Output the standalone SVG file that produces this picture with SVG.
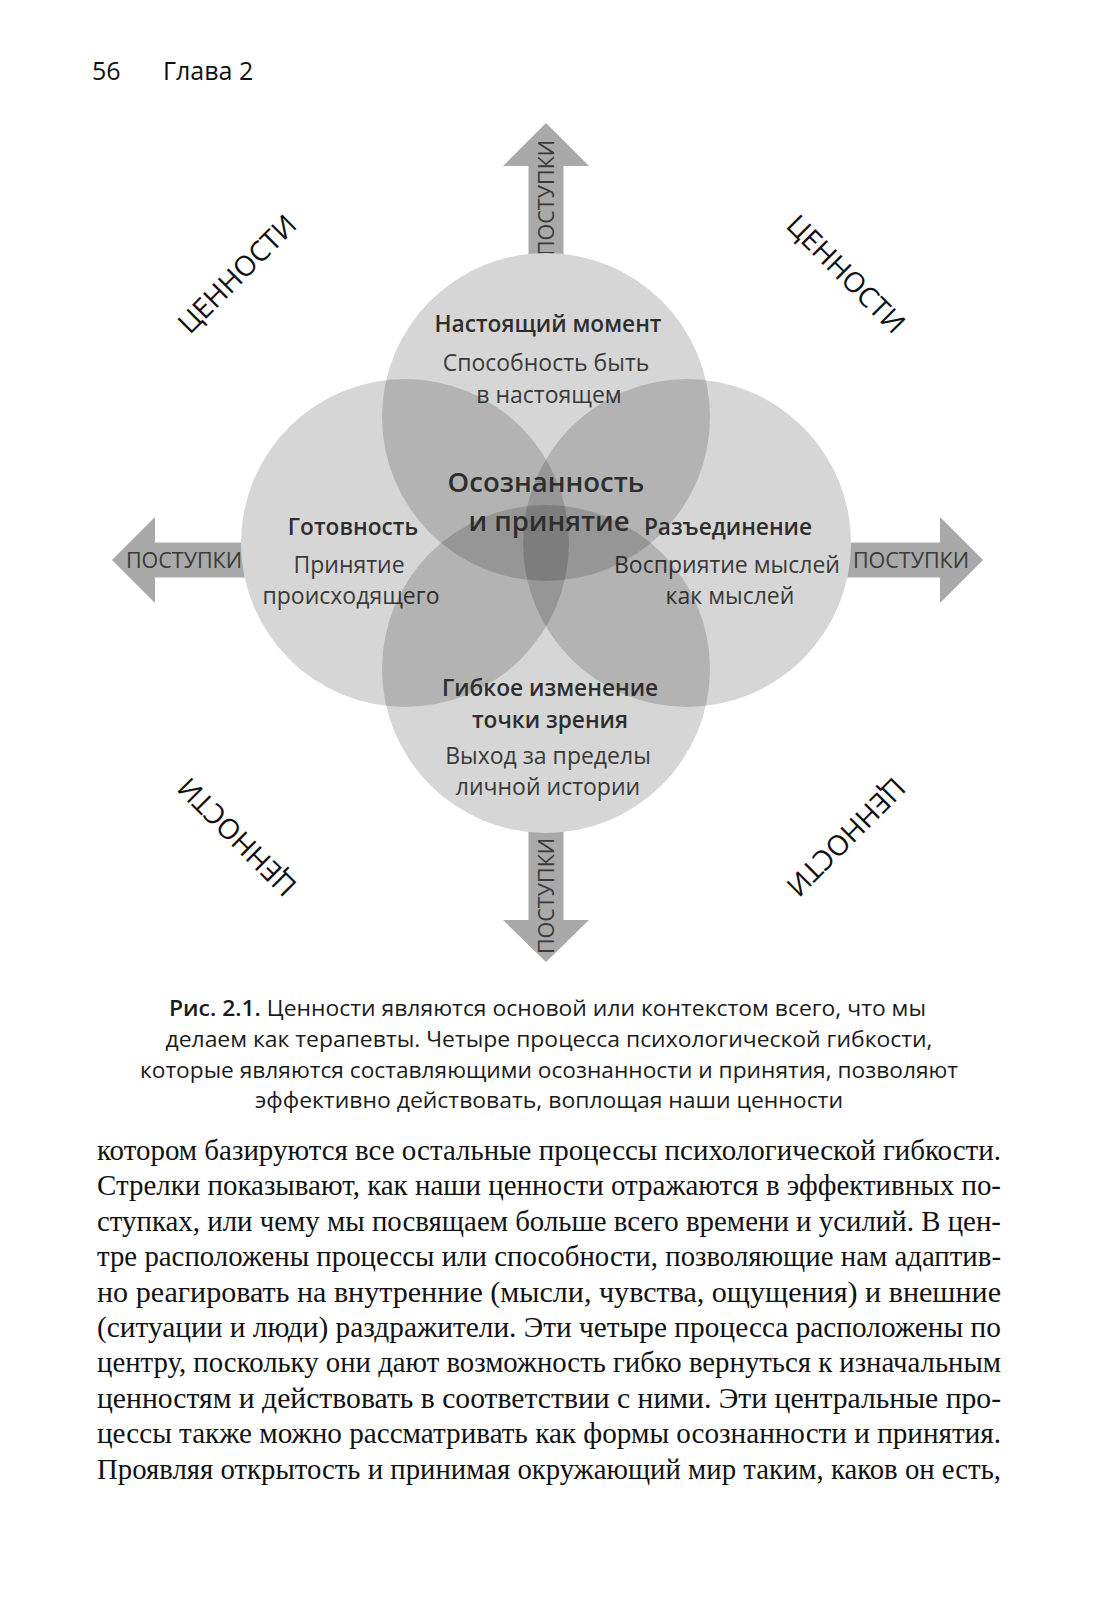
<svg xmlns="http://www.w3.org/2000/svg" width="1098" height="1601" viewBox="0 0 1098 1601">
<style>
.arrow{fill:#a9a9a9}
.at{font-family:"Open Sans","Noto Sans",sans-serif;font-size:21.5px;fill:#3a3a3a;text-anchor:middle}
.under{fill:#fff}
.circ{fill:#000;fill-opacity:0.16}
.h{font-family:"Open Sans","Noto Sans",sans-serif;font-weight:600;font-size:22.7px;fill:#2e2e2e;text-anchor:middle}
.r{font-family:"Open Sans","Noto Sans",sans-serif;font-size:23px;fill:#3a3a3a;text-anchor:middle}
.big{font-size:27.5px}
.val{font-family:"Open Sans","Noto Sans",sans-serif;font-size:28px;fill:#111;text-anchor:middle}
.cap{font-family:"Open Sans","Noto Sans",sans-serif;font-size:21px;fill:#1a1a1a;text-anchor:middle}
.capb{font-weight:600}
.body{font-family:"Liberation Serif","DejaVu Serif",serif;font-size:29px;fill:#111}
.hdr{font-family:"Open Sans","Noto Sans",sans-serif;font-weight:500;font-size:25px;fill:#111}
</style>
<rect width="1098" height="1601" fill="#fff"/>
<g id="header">
<text class="hdr" x="92" y="80">56</text>
<text class="hdr" x="163" y="80">Глава 2</text>
</g>
<g id="connectors">
<path class="arrow" d="M528.5,300 V166 H503 L546,123 L589,166 H563.5 V300 Z"/>
<path class="arrow" d="M528.5,780 V920 H503 L546,962 L589,920 H563.5 V780 Z"/>
<path class="arrow" d="M300,542.5 H155 V517 L112,560 L155,603 V577.5 H300 Z"/>
<path class="arrow" d="M800,542.5 H940 V517 L983,560 L940,603 V577.5 H800 Z"/>
<text class="at" transform="translate(546,198) rotate(-90)" y="7.7">ПОСТУПКИ</text>
<text class="at" transform="translate(546,896) rotate(-90)" y="7.7">ПОСТУПКИ</text>
<text class="at" x="184" y="568">ПОСТУПКИ</text>
<text class="at" x="911" y="568">ПОСТУПКИ</text>
</g>
<g id="values">
<text class="val" transform="translate(237,274) rotate(-45)" y="10">ЦЕННОСТИ</text>
<text class="val" transform="translate(846,274) rotate(45)" y="10">ЦЕННОСТИ</text>
<text class="val" transform="translate(237,837) rotate(225)" y="10">ЦЕННОСТИ</text>
<text class="val" transform="translate(846,837) rotate(135)" y="10">ЦЕННОСТИ</text>
</g>
<g id="underlay">
<circle class="under" cx="546" cy="417" r="164"/>
<circle class="under" cx="405" cy="543" r="164"/>
<circle class="under" cx="687" cy="543" r="164"/>
<circle class="under" cx="546" cy="669" r="164"/>
</g>
<g id="node-present">
<circle class="circ" cx="546" cy="417" r="164"/>
<text class="h" x="548" y="332">Настоящий момент</text>
<text class="r" x="546" y="371">Способность быть</text>
<text class="r" x="549" y="403">в настоящем</text>
</g>
<g id="node-willingness">
<circle class="circ" cx="405" cy="543" r="164"/>
<text class="h" x="353" y="535">Готовность</text>
<text class="r" x="349" y="573">Принятие</text>
<text class="r" x="351" y="604">происходящего</text>
</g>
<g id="node-defusion">
<circle class="circ" cx="687" cy="543" r="164"/>
<text class="h" x="728" y="535">Разъединение</text>
<text class="r" x="727" y="573">Восприятие мыслей</text>
<text class="r" x="730" y="604">как мыслей</text>
</g>
<g id="node-perspective">
<circle class="circ" cx="546" cy="669" r="164"/>
<text class="h" x="550" y="696">Гибкое изменение</text>
<text class="h" x="550" y="728">точки зрения</text>
<text class="r" x="548" y="764">Выход за пределы</text>
<text class="r" x="548" y="795">личной истории</text>
</g>
<g id="node-center">
<text class="h big" x="546" y="492">Осознанность</text>
<text class="h big" x="549" y="531">и принятие</text>
</g>
<g id="caption">
<text class="cap" x="547.5" y="1016" textLength="757" lengthAdjust="spacingAndGlyphs"><tspan class="capb">Рис. 2.1.</tspan> Ценности являются основой или контекстом всего, что мы</text>
<text class="cap" x="549" y="1047" textLength="767" lengthAdjust="spacingAndGlyphs">делаем как терапевты. Четыре процесса психологической гибкости,</text>
<text class="cap" x="549" y="1078" textLength="818" lengthAdjust="spacingAndGlyphs">которые являются составляющими осознанности и принятия, позволяют</text>
<text class="cap" x="549" y="1108" textLength="588" lengthAdjust="spacingAndGlyphs">эффективно действовать, воплощая наши ценности</text>
</g>
<g id="body">
<text class="body" x="97" y="1160" textLength="904" lengthAdjust="spacingAndGlyphs">котором базируются все остальные процессы психологической гибкости.</text>
<text class="body" x="97" y="1195.4" textLength="904" lengthAdjust="spacingAndGlyphs">Стрелки показывают, как наши ценности отражаются в эффективных по-</text>
<text class="body" x="97" y="1230.8" textLength="904" lengthAdjust="spacingAndGlyphs">ступках, или чему мы посвящаем больше всего времени и усилий. В цен-</text>
<text class="body" x="97" y="1266.2" textLength="904" lengthAdjust="spacingAndGlyphs">тре расположены процессы или способности, позволяющие нам адаптив-</text>
<text class="body" x="97" y="1301.6" textLength="904" lengthAdjust="spacingAndGlyphs">но реагировать на внутренние (мысли, чувства, ощущения) и внешние</text>
<text class="body" x="97" y="1337" textLength="904" lengthAdjust="spacingAndGlyphs">(ситуации и люди) раздражители. Эти четыре процесса расположены по</text>
<text class="body" x="97" y="1372.4" textLength="904" lengthAdjust="spacingAndGlyphs">центру, поскольку они дают возможность гибко вернуться к изначальным</text>
<text class="body" x="97" y="1407.8" textLength="904" lengthAdjust="spacingAndGlyphs">ценностям и действовать в соответствии с ними. Эти центральные про-</text>
<text class="body" x="97" y="1443.2" textLength="904" lengthAdjust="spacingAndGlyphs">цессы также можно рассматривать как формы осознанности и принятия.</text>
<text class="body" x="97" y="1478.6" textLength="904" lengthAdjust="spacingAndGlyphs">Проявляя открытость и принимая окружающий мир таким, каков он есть,</text>
</g>
</svg>
